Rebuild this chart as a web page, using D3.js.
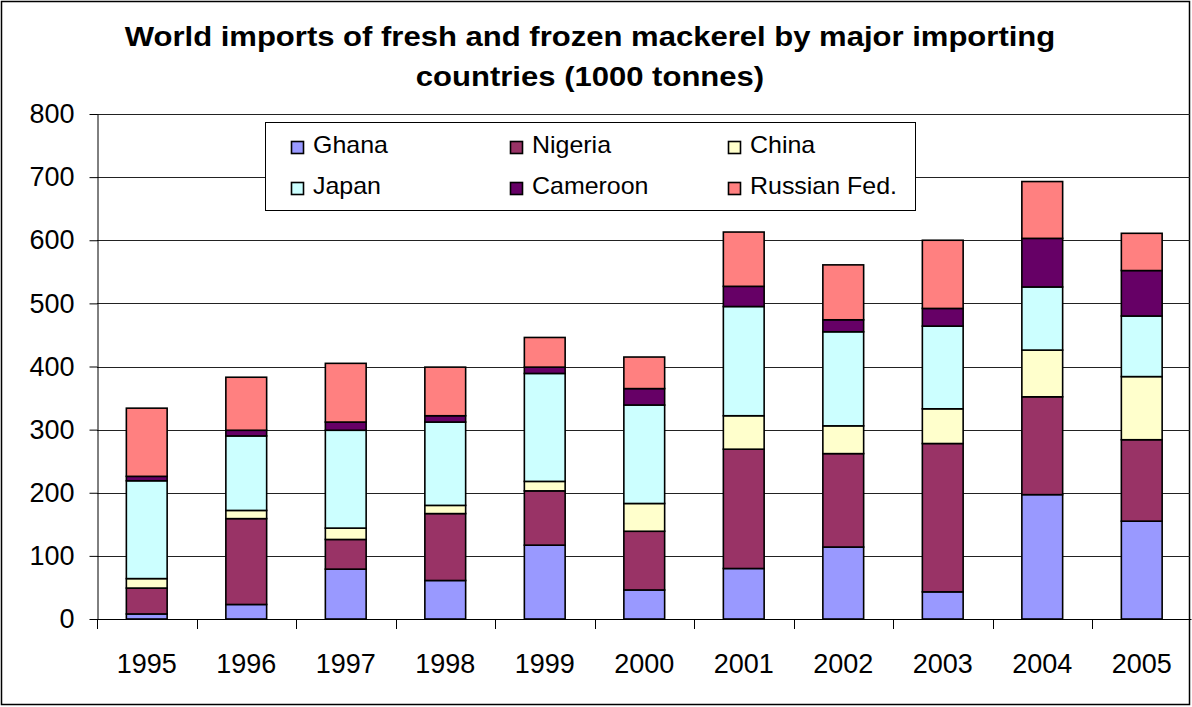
<!DOCTYPE html>
<html><head><meta charset="utf-8">
<script src="https://cdn.jsdelivr.net/npm/d3@7"></script>
<style>body{margin:0;background:#fff}svg{display:block}text{font-family:"Liberation Sans",Arial,sans-serif}</style>
</head><body>
<svg id="c" width="1192" height="707"></svg>
<script>
const years = ["1995","1996","1997","1998","1999","2000","2001","2002","2003","2004","2005"];
const seriesNames = ["Ghana","Nigeria","China","Japan","Cameroon","Russian Fed."];
const seriesColors = ["#9999FF","#993366","#FFFFCC","#CCFFFF","#660066","#FF8080"];
const ghana    = [8, 23, 79, 61, 117, 46, 80, 114, 43, 197, 155];
const nigeria  = [41, 136, 47, 106, 86, 93, 189, 148, 235, 155, 129];
const china    = [15, 13, 18, 13, 15, 44, 53, 44, 55, 74, 100];
const japan    = [155, 118, 155, 132, 171, 156, 173, 149, 131, 100, 96];
const cameroon = [7, 9, 13, 10, 10, 26, 32, 19, 28, 77, 72];
const russia   = [108, 84, 93, 77, 47, 50, 86, 87, 108, 90, 59];
const yTicks = [0,100,200,300,400,500,600,700,800];
const titleLines = ["World imports of fresh and frozen mackerel by major importing","countries (1000 tonnes)"];

const values = [ghana, nigeria, china, japan, cameroon, russia];
const table = years.map((y,i)=>{const o={year:y}; seriesNames.forEach((s,k)=>o[s]=values[k][i]); return o;});
const stacked = d3.stack().keys(seriesNames)(table);

const svg = d3.select("#c");
const L=97, R=1191.5, T=114, B=619;
const x = d3.scaleBand().domain(years).range([L,R]).paddingInner(0.59).paddingOuter(0.295);
const y = d3.scaleLinear().domain([0,800]).range([B,T]);
const color = d3.scaleOrdinal().domain(seriesNames).range(seriesColors);

// outer border
svg.append("rect").attr("x",1.5).attr("y",1.5).attr("width",1188).attr("height",703)
  .attr("fill","none").attr("stroke","#000").attr("stroke-width",1.5);

// title
svg.append("g").selectAll("text").data(titleLines).join("text")
  .attr("transform",(d,i)=>`translate(590,${46+i*40}) scale(1.15,1)`)
  .attr("text-anchor","middle")
  .attr("font-size",27).attr("font-weight","bold").text(d=>d);

// gridlines
svg.append("g").selectAll("line").data(yTicks.filter(d=>d>0)).join("line")
  .attr("x1",L).attr("x2",1190).attr("y1",d=>Math.round(y(d))+0.5).attr("y2",d=>Math.round(y(d))+0.5)
  .attr("stroke","#222").attr("stroke-width",1);

// y axis
const ya = svg.append("g").attr("transform",`translate(${L+0.5},0)`)
  .call(d3.axisLeft(y).tickValues(yTicks).tickSize(8).tickPadding(15).tickSizeOuter(0));
ya.select(".domain").attr("stroke","#000");
ya.selectAll(".tick line").attr("stroke","#000");
ya.selectAll("text").attr("font-size",27).attr("fill","#000").attr("font-family","Liberation Sans, Arial, sans-serif");

// bars
svg.append("g").selectAll("g").data(stacked).join("g").attr("fill",d=>color(d.key))
  .selectAll("rect").data(d=>d).join("rect")
  .attr("x",d=>x(d.data.year)).attr("width",x.bandwidth())
  .attr("y",d=>y(d[1])).attr("height",d=>y(d[0])-y(d[1]))
  .attr("stroke","#000").attr("stroke-width",1.6);

// x axis
const boundaries = years.map((v,i)=>L + i*x.step());
boundaries.push(R);
svg.append("line").attr("x1",L).attr("x2",R).attr("y1",B+0.5).attr("y2",B+0.5).attr("stroke","#000");
svg.append("g").selectAll("line").data(boundaries).join("line")
  .attr("x1",d=>Math.round(d)+0.5).attr("x2",d=>Math.round(d)+0.5).attr("y1",B).attr("y2",B+10).attr("stroke","#000");
svg.append("g").selectAll("text").data(years).join("text")
  .attr("x",d=>x(d)+x.bandwidth()/2).attr("y",673).attr("text-anchor","middle")
  .attr("font-size",27).text(d=>d);

// legend
const lg = svg.append("g");
lg.append("rect").attr("x",265.5).attr("y",122.5).attr("width",650).attr("height",88)
  .attr("fill","#fff").attr("stroke","#000").attr("stroke-width",1);
const colX = [291,510,728], rowY = [153,194];
const items = lg.selectAll("g").data(seriesNames).join("g")
  .attr("transform",(d,i)=>`translate(${colX[i%3]},${rowY[Math.floor(i/3)]})`);
items.append("rect").attr("x",0.5).attr("y",-11.5).attr("width",12).attr("height",12)
  .attr("fill",d=>color(d)).attr("stroke","#000").attr("stroke-width",1.6);
items.append("text").attr("transform","translate(22,0) scale(1.04,1)").attr("font-size",24).text(d=>d);
</script>
</body></html>
